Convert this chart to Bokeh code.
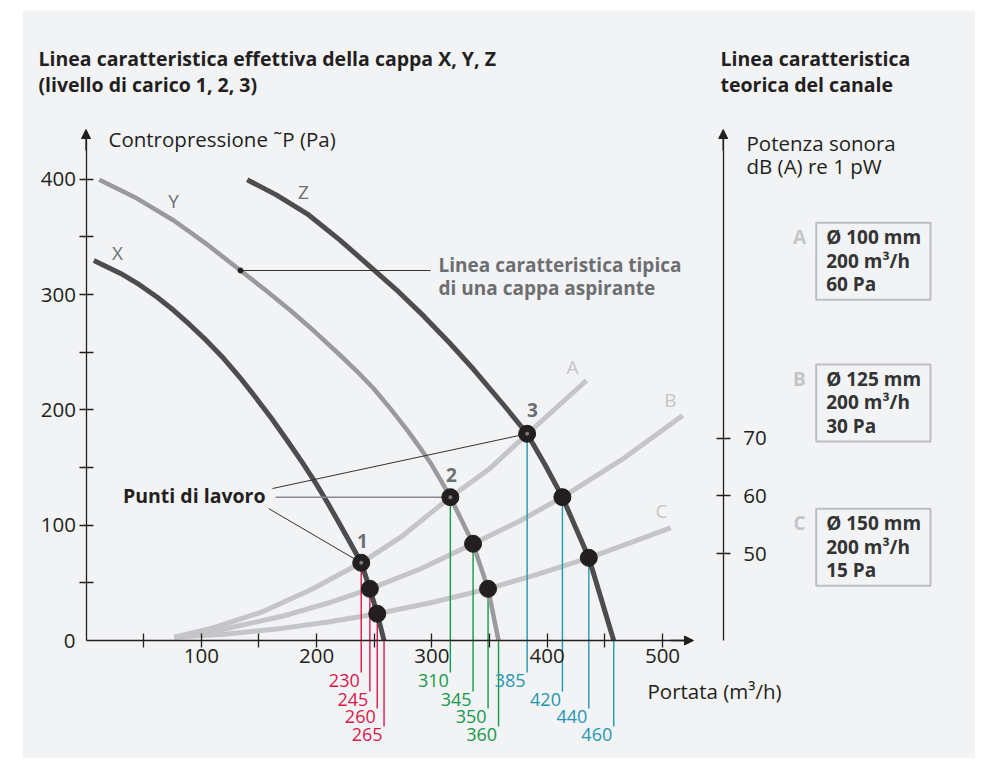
from bokeh.plotting import figure
from bokeh.models import (Range1d, LinearAxis, FixedTicker, Label, Arrow,
                          NormalHead, Spacer)
from bokeh.layouts import column, row
from bokeh.embed import file_html
from bokeh.resources import INLINE

# ---------------- data ----------------
# hood characteristic curves X, Y, Z : flow (m3/h) vs back-pressure (Pa)
x_flow = [6.8, 30, 46, 61.8, 76, 90, 105, 119.5, 133, 147, 161, 174.5, 188, 200.5,
          210, 220, 229.5, 238.7, 246.2, 252.6, 258.5]
x_pa = [329.6, 318.4, 308.8, 297.7, 286.4, 273.9, 259.6, 244.5, 228.7, 211, 192.5,
        173.5, 153.8, 134.5, 118.6, 101, 84.1, 67.4, 44.8, 23.2, 0]
y_flow = [11.5, 44, 76.1, 105, 134, 155, 177.4, 199, 220.7, 235, 249.6, 264, 278.6,
          289, 298.8, 307.5, 316, 335.7, 348.7, 357.8]
y_pa = [399.6, 383.5, 364.3, 343.5, 320.9, 304.5, 286.2, 267.3, 247.2, 233.5, 218.3,
        201.1, 182.5, 168.1, 154, 139.3, 124.3, 83.9, 44.8, 0]
z_flow = [139.8, 165, 191.8, 220, 249.6, 271, 293, 315, 336.3, 365, 382.6, 398,
          413.2, 436.1, 457.7]
z_pa = [399.6, 386.5, 370.1, 347.5, 321.5, 302.5, 281.3, 258.5, 235, 201, 179.3,
        152.6, 124.3, 71.7, 0]

# duct characteristic curves A, B, C
a_flow = [76.6, 110, 152, 195, 238.7, 273, 316, 350, 383, 434]
a_pa = [2.9, 11, 24.5, 44, 67.4, 89.6, 124.3, 149, 179.3, 225.5]
b_flow = [76.6, 120, 170, 210, 246.2, 290, 335.7, 375, 413.2, 465, 517.4]
b_pa = [2.9, 10, 21, 32.5, 44.8, 62, 83.9, 103, 124.3, 157, 195.1]
c_flow = [76.6, 120, 170, 210, 252.6, 300, 348.7, 390, 436.1, 470, 507.1]
c_pa = [2.9, 5.5, 10.5, 16, 23.2, 33, 44.8, 57, 71.7, 84, 97.7]

# operating points (intersections)
pt_flow = [238.7, 246.2, 252.6, 316, 335.7, 348.7, 382.6, 413.2, 436.1]
pt_pa = [67.4, 44.8, 23.2, 124.3, 83.9, 44.8, 179.3, 124.3, 71.7]

# drop lines to the flow axis, one group per hood
drop_x_flow = [238.7, 246.2, 252.6, 258.5]
drop_x_pa = [67.4, 44.8, 23.2, 0]
drop_x_labels = ["230", "245", "260", "265"]
drop_y_flow = [316, 335.7, 348.7, 357.8]
drop_y_pa = [124.3, 83.9, 44.8, 0]
drop_y_labels = ["310", "345", "350", "360"]
drop_z_flow = [382.6, 413.2, 436.1, 457.7]
drop_z_pa = [179.3, 124.3, 71.7, 0]
drop_z_labels = ["385", "420", "440", "460"]

flow_ticks = [100, 200, 300, 400, 500]
flow_minor = [50, 150, 250, 350, 450]
pa_ticks = [100, 200, 300, 400]
pa_minor = [50, 150, 250, 350]
db_ticks = [50, 60, 70]

box_labels = ["A", "B", "C"]
box_lines = [["Ø 100 mm", "200 m³/h", "60 Pa"],
             ["Ø 125 mm", "200 m³/h", "30 Pa"],
             ["Ø 150 mm", "200 m³/h", "15 Pa"]]

# ---------------- layout helpers ----------------
W, H = 953, 748
FX, FY = 22, 10
X0, Y0, S = 85.5, 640.0, 1.153


def dx(px):
    return (px - X0) / S


def dy(py):
    return (Y0 - py) / S


DB0_PY, DBS = 553.0, 5.765


def ddb(py):
    return 50 + (DB0_PY - py) / DBS


BG = "#F2F3F5"
INK = "#231F20"
DARK = "#4D4D4F"
MID = "#999A9C"
LIGHT = "#C4C5C7"
LABEL_GREY = "#6D6E71"
RED = "#D7194A"
GREEN = "#16994A"
BLUE = "#2596B0"
FONT = "Open Sans"
REG = "20.5px"

p = figure(width=W, height=H, output_backend="svg", toolbar_location=None,
           x_range=Range1d(dx(FX), dx(FX + W)),
           y_range=Range1d(dy(FY + H), dy(FY)),
           x_axis_type=None, y_axis_type=None,
           min_border=0, min_border_left=0, min_border_right=0,
           min_border_top=0, min_border_bottom=0)
p.background_fill_color = BG
p.border_fill_color = BG
p.outline_line_color = None
p.xgrid.visible = False
p.ygrid.visible = False
p.extra_y_ranges = {"db": Range1d(ddb(FY + H), ddb(FY))}


def style_axis(ax):
    ax.axis_line_color = INK
    ax.axis_line_width = 1.3
    ax.major_tick_line_color = INK
    ax.minor_tick_line_color = INK
    ax.major_tick_line_width = 1.3
    ax.minor_tick_line_width = 1.3
    ax.major_tick_in = 7
    ax.major_tick_out = 7
    ax.minor_tick_in = 7
    ax.minor_tick_out = 7
    ax.major_label_text_font = FONT
    ax.major_label_text_font_size = REG
    ax.major_label_text_color = INK


xaxis = LinearAxis(fixed_location=0, bounds=(0, dx(686)),
                   ticker=FixedTicker(ticks=flow_ticks, minor_ticks=flow_minor))
style_axis(xaxis)
xaxis.major_label_standoff = 1
p.add_layout(xaxis, "below")

yaxis = LinearAxis(fixed_location=0, bounds=(0, dy(138)),
                   ticker=FixedTicker(ticks=pa_ticks, minor_ticks=pa_minor))
style_axis(yaxis)
yaxis.major_label_standoff = 3
p.add_layout(yaxis, "left")

RAX = dx(722.7)
raxis = LinearAxis(fixed_location=RAX, y_range_name="db",
                   bounds=(ddb(640), ddb(138)),
                   ticker=FixedTicker(ticks=db_ticks, minor_ticks=[]))
style_axis(raxis)
raxis.major_label_standoff = 13
p.add_layout(raxis, "right")

# arrow heads
for (xs, ys, xe, ye, rng) in [
    (0, dy(150), 0, dy(129), "default"),
    (dx(670), 0, dx(693), 0, "default"),
    (RAX, ddb(150), RAX, ddb(129), "db"),
]:
    p.add_layout(Arrow(end=NormalHead(size=9, fill_color=INK, line_color=INK),
                       x_start=xs, y_start=ys, x_end=xe, y_end=ye,
                       line_color=INK, line_width=1.3, y_range_name=rng))

# duct curves
for fx, fy in [(a_flow, a_pa), (b_flow, b_pa), (c_flow, c_pa)]:
    p.line(fx, fy, line_color=LIGHT, line_width=5, line_join="round")

# drop lines
ends_py = [672, 691, 708, 726]
for flows, pas, labels, col in [
    (drop_x_flow, drop_x_pa, drop_x_labels, RED),
    (drop_y_flow, drop_y_pa, drop_y_labels, GREEN),
    (drop_z_flow, drop_z_pa, drop_z_labels, BLUE),
]:
    for i, (f, pa, lab) in enumerate(zip(flows, pas, labels)):
        p.segment(x0=[f], y0=[pa], x1=[f], y1=[dy(ends_py[i])],
                  line_color=col, line_width=1.4)
        p.add_layout(Label(x=f - 1.5 / S, y=dy(ends_py[i] + 1), text=lab,
                           text_align="right", text_baseline="top",
                           text_font=FONT, text_font_size="18px",
                           text_color=col))

# hood curves
p.line(x_flow, x_pa, line_color=DARK, line_width=5, line_join="round")
p.line(y_flow, y_pa, line_color=MID, line_width=4.5, line_join="round")
p.line(z_flow, z_pa, line_color=DARK, line_width=5, line_join="round")

# leader lines "Punti di lavoro"
p.segment(x0=[dx(272)], y0=[dy(488)], x1=[pt_flow[6]], y1=[pt_pa[6]],
          line_color="#333333", line_width=1)
p.segment(x0=[dx(275)], y0=[pt_pa[3]], x1=[pt_flow[3]], y1=[pt_pa[3]],
          line_color="#8A8A8C", line_width=1.6)
p.segment(x0=[dx(268)], y0=[dy(508)], x1=[pt_flow[0]], y1=[pt_pa[0]],
          line_color="#333333", line_width=1)

# leader for typical hood curve
p.segment(x0=[y_flow[4]], y0=[y_pa[4]], x1=[dx(430)], y1=[y_pa[4]],
          line_color="#333333", line_width=1.2)
p.scatter([y_flow[4]], [y_pa[4]], size=5, color=INK)

# operating points
p.scatter(pt_flow, pt_pa, size=17, fill_color=INK, line_color=INK)
p.scatter([pt_flow[0], pt_flow[3], pt_flow[6]], [pt_pa[0], pt_pa[3], pt_pa[6]],
          size=4, fill_color="#7A7A7A", line_color=None)

# point numbers
for t, px, py in [("1", 362, 540), ("2", 451, 474), ("3", 532, 409)]:
    p.add_layout(Label(x=dx(px), y=dy(py), text=t, text_align="center",
                       text_baseline="middle", text_font=FONT,
                       text_font_size="19px", text_font_style="bold",
                       text_color=LABEL_GREY))

# curve letters
for t, px, py, col in [("X", 117, 252, LABEL_GREY), ("Y", 173, 200, LABEL_GREY),
                       ("Z", 303, 191, LABEL_GREY), ("A", 572, 366, LIGHT),
                       ("B", 670, 399, LIGHT), ("C", 661, 510, LIGHT)]:
    p.add_layout(Label(x=dx(px), y=dy(py), text=t, text_align="center",
                       text_baseline="middle", text_font=FONT,
                       text_font_size="19px", text_color=col))


def txt(t, px, py, size=REG, style="normal", color=INK, align="left"):
    p.add_layout(Label(x=dx(px), y=dy(py), text=t, text_align=align,
                       text_baseline="middle", text_font=FONT,
                       text_font_size=size, text_font_style=style,
                       text_color=color))


# titles
txt("Linea caratteristica effettiva della cappa X, Y, Z", 38, 58, "19.5px", "bold")
txt("(livello di carico 1, 2, 3)", 38, 84, "19.5px", "bold")
txt("Linea caratteristica", 720, 58, "19.5px", "bold")
txt("teorica del canale", 720, 84, "19.5px", "bold")
txt("Contropressione ˜P (Pa)", 108, 138)
txt("0", 75, 640, align="right")
txt("Portata (m³/h)", 647, 690)
txt("Potenza sonora", 746, 142)
txt("dB (A) re 1 pW", 746, 165)
txt("Punti di lavoro", 265, 495, "19.5px", "bold", align="right")
txt("Linea caratteristica tipica", 438, 264, "19px", "bold", LABEL_GREY)
txt("di una cappa aspirante", 438, 287, "19px", "bold", LABEL_GREY)

# pipe boxes
box_tops = [222.3, 364, 508.3]
box_h = 77
for lab, lines, top in zip(box_labels, box_lines, box_tops):
    p.quad(left=[dx(815.7)], right=[dx(930)], top=[dy(top)],
           bottom=[dy(top + box_h)], fill_color=None,
           line_color="#BDBEC0", line_width=2)
    txt(lab, 799, top + 14.5, "19px", "bold", LIGHT, align="center")
    for j, line in enumerate(lines):
        txt(line, 825.7, top + 14.5 + 23.3 * j, "19px", "bold", "#333333")

layout = column(Spacer(height=10), row(Spacer(width=22), p))
open("out.html", "w").write(file_html(layout, INLINE))
